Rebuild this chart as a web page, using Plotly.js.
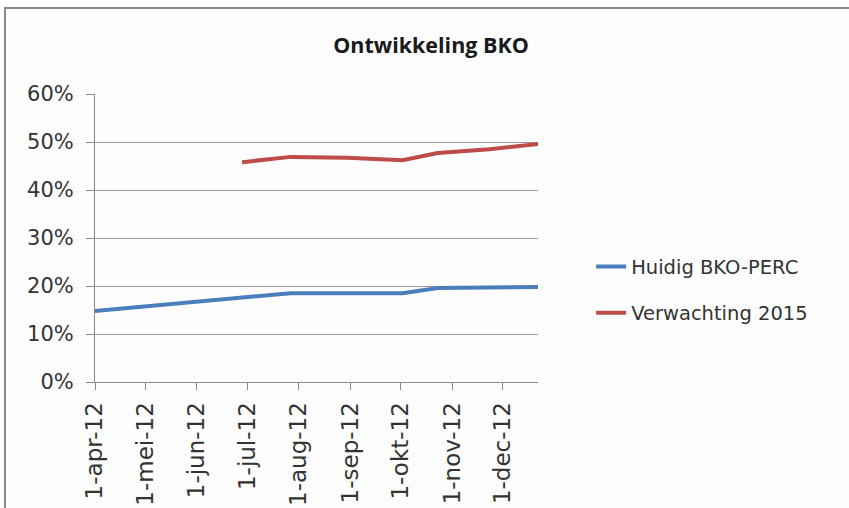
<!DOCTYPE html>
<html>
<head>
<meta charset="utf-8">
<script src="https://cdn.plot.ly/plotly-3.0.1.min.js"></script>
<style>
  html, body { margin: 0; padding: 0; background: #ffffff; }
  #frame { position: absolute; left: 4px; top: 7px; width: 900px; height: 600px; border: 2px solid #8a8a8a; background: #fdfdfd; box-sizing: border-box; }
  #chart { position: absolute; left: 0; top: 0; width: 849px; height: 508px; }
</style>
</head>
<body>
<div id="frame"></div>
<div id="chart"></div>
<script>
// Huidig BKO-PERC
const currentDates = ['2012-04-01', '2012-07-27', '2012-10-02', '2012-10-23', '2012-12-22'];
const currentValues = [0.148, 0.185, 0.185, 0.196, 0.198];
// Verwachting 2015
const expectDates = ['2012-06-28', '2012-07-27', '2012-08-30', '2012-10-02', '2012-10-23', '2012-11-23', '2012-12-22'];
const expectValues = [0.458, 0.469, 0.467, 0.462, 0.477, 0.485, 0.496];
// x tick labels
const tickDates = ['2012-04-01', '2012-05-01', '2012-06-01', '2012-07-01', '2012-08-01', '2012-09-01', '2012-10-01', '2012-11-01', '2012-12-01'];
const tickLabels = ['1-apr-12', '1-mei-12', '1-jun-12', '1-jul-12', '1-aug-12', '1-sep-12', '1-okt-12', '1-nov-12', '1-dec-12'];
const seriesNames = ['Huidig BKO-PERC', 'Verwachting 2015'];

const font = "'DejaVu Sans', sans-serif";
const traces = [
  { x: currentDates, y: currentValues, name: seriesNames[0], type: 'scatter', mode: 'lines',
    line: { color: '#4a7ebb', width: 4 }, legendgroup: 'a' },
  { x: expectDates, y: expectValues, name: seriesNames[1], type: 'scatter', mode: 'lines',
    line: { color: '#be4b48', width: 4 }, legendgroup: 'b' }
];
const layout = {
  width: 849, height: 508,
  paper_bgcolor: 'rgba(0,0,0,0)', plot_bgcolor: 'rgba(0,0,0,0)',
  margin: { l: 95, r: 311, t: 94, b: 126 },
  title: { text: '<b>Ontwikkeling BKO</b>', font: { family: "'Open Sans', sans-serif", size: 21.5, color: '#1a1a1a' },
           x: 0.5077, xanchor: 'center', y: 0.91, yanchor: 'middle' },
  showlegend: true,
  legend: { x: 1.12, xanchor: 'left', y: 0.32, yanchor: 'middle', traceorder: 'grouped', tracegroupgap: 18,
            font: { family: font, size: 19.5, color: '#333333' }, bgcolor: 'rgba(0,0,0,0)' },
  xaxis: {
    type: 'date', range: ['2012-04-01', '2012-12-22'],
    tickmode: 'array', tickvals: tickDates, ticktext: tickLabels, tickangle: -90,
    ticks: 'outside', ticklen: 7, tickcolor: '#8a8a8a', tickwidth: 1, ticklabelstandoff: 3,
    showline: true, linecolor: '#8a8a8a', linewidth: 1, showgrid: false, zeroline: false,
    tickfont: { family: font, size: 23, color: '#333333' }
  },
  yaxis: {
    range: [0, 0.6], tickvals: [0, 0.1, 0.2, 0.3, 0.4, 0.5, 0.6], tickformat: '.0%',
    ticks: 'outside', ticklen: 8, tickcolor: '#8a8a8a', tickwidth: 1, ticklabelstandoff: 8,
    showline: true, linecolor: '#8a8a8a', linewidth: 1,
    showgrid: true, gridcolor: '#9a9a9a', gridwidth: 1, zeroline: false,
    tickfont: { family: font, size: 21, color: '#333333' }
  }
};
Plotly.newPlot('chart', traces, layout, { displayModeBar: false, staticPlot: true });
</script>
</body>
</html>
